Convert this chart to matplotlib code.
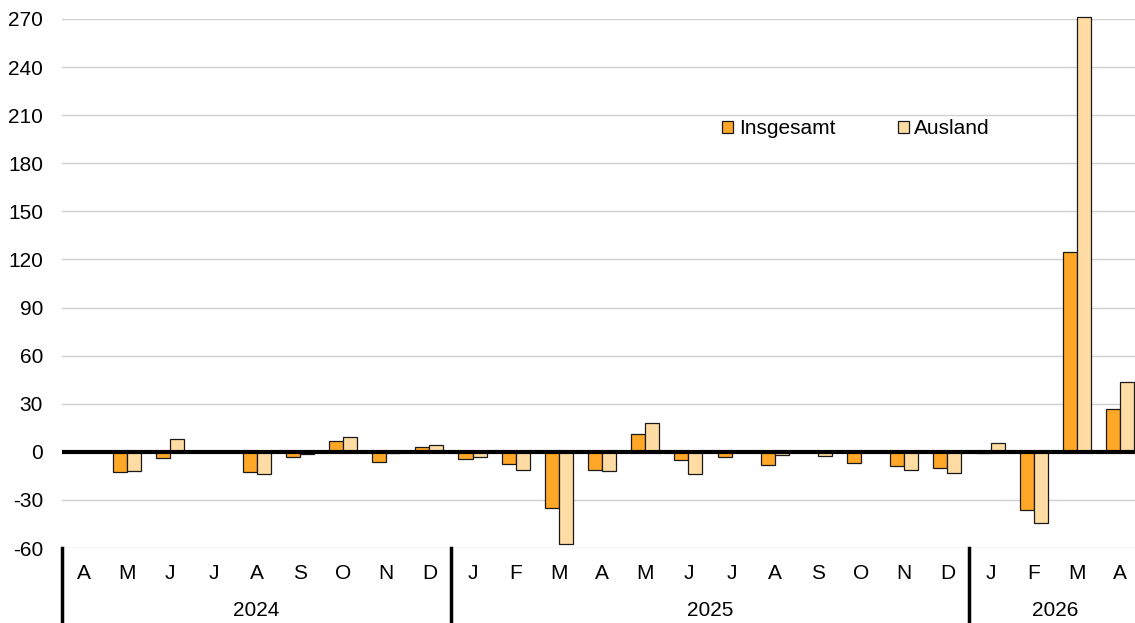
import matplotlib.pyplot as plt
import numpy as np

plt.rcParams['font.family'] = ['Liberation Sans', 'DejaVu Sans']
plt.rcParams['axes.unicode_minus'] = False

# monthly values, April 2024 to April 2026
months = ['A', 'M', 'J', 'J', 'A', 'S', 'O', 'N', 'D',
          'J', 'F', 'M', 'A', 'M', 'J', 'J', 'A', 'S', 'O', 'N', 'D',
          'J', 'F', 'M', 'A']
years = ['2024', '2025', '2026']
year_counts = [9, 12, 4]

insgesamt = [0.5, -12.5, -3.7, 0.2, -12.7, -3.5, 7.0, -6.4, 2.7,
             -4.6, -7.9, -34.9, -11.2, 11.2, -5.4, -3.5, -8.3, -0.3, -7.0, -8.9, -10.4,
             -0.8, -36.5, 124.5, 26.7]
ausland = [0.8, -12.0, 7.9, 0.2, -14.0, -1.5, 9.3, -0.8, 4.2,
           -3.1, -11.2, -57.4, -12.1, 17.9, -13.9, -0.4, -1.8, -2.7, -0.3, -11.6, -13.3,
           5.2, -44.6, 271.5, 43.5]

c_ins = '#FFA726'
c_aus = '#FFDCA4'
fs = 15

fig = plt.figure(figsize=(11.35, 6.23), dpi=100)
ax = fig.add_axes([62.4 / 1135, 75 / 623, 25 * 43.17 / 1135, 529 / 623])

x = np.arange(len(months))
w = 0.325
ax.bar(x - w / 2, insgesamt, w, color=c_ins, edgecolor='#1a1a1a', linewidth=0.9,
       label='Insgesamt', zorder=2, clip_on=False)
ax.bar(x + w / 2, ausland, w, color=c_aus, edgecolor='#1a1a1a', linewidth=0.9,
       label='Ausland', zorder=2, clip_on=False)
ax.axhline(0, color='black', linewidth=3, zorder=3)

ax.set_xlim(-0.5, len(months) - 0.5)
ax.set_ylim(-60, 270)
ax.set_yticks(range(-60, 271, 30))
ax.yaxis.grid(True, color='#d0d0d0', linewidth=1)
ax.set_axisbelow(True)
for s in ax.spines.values():
    s.set_visible(False)
ax.tick_params(axis='y', length=0, pad=14, labelsize=fs)
ax.set_xticks([])

trans = ax.get_xaxis_transform()
for i, m in enumerate(months):
    ax.text(i, -0.049, m, transform=trans, ha='center', va='center', fontsize=fs)

start = 0
for yr, n in zip(years, year_counts):
    ax.text(start + (n - 1) / 2, -0.119, yr, transform=trans, ha='center', va='center', fontsize=fs)
    ax.plot([start - 0.5, start - 0.5], [0, -0.15], transform=trans, color='black',
            linewidth=2.5, clip_on=False)
    start += n

ax.legend(loc='center left', bbox_to_anchor=(722 / 1135, 1 - 129 / 623),
          bbox_transform=fig.transFigure, ncol=2, frameon=False, fontsize=fs,
          handlelength=0.55, handleheight=0.55, handletextpad=0.25,
          columnspacing=3.0, borderpad=0, borderaxespad=0)

plt.savefig('out.png', dpi=100)
